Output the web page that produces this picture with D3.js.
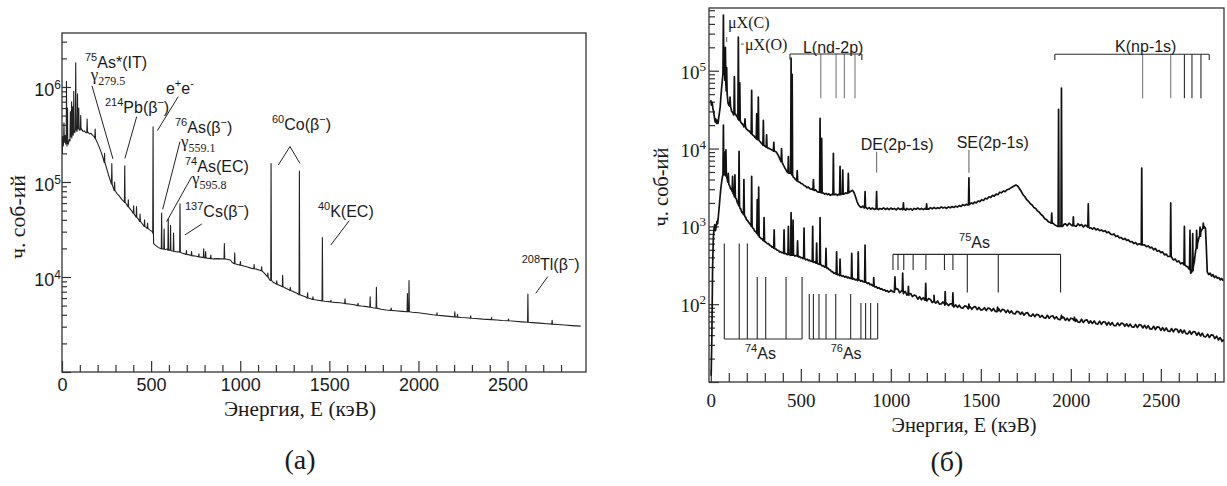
<!DOCTYPE html>
<html>
<head>
<meta charset="utf-8">
<script src="https://cdn.jsdelivr.net/npm/d3@7"></script>
<style>
body { margin: 0; background: #fff; }
svg { display: block; }
</style>
</head>
<body>
<svg id="fig" width="1227" height="486"></svg>
<script>
// ---- panel (a): continuum [E keV, counts] and peaks [E, base, top]
const contA = [
[1,2.0e5],[4,3.0e5],[7,2.4e5],[10,3.3e5],[13,2.6e5],[17,3.1e5],[21,2.5e5],[24,2.9e5],[28,2.4e5],[32,2.7e5],[36,2.5e5],[40,2.8e5],[45,2.7e5],[50,3.1e5],[55,2.9e5],[59,3.3e5],[63,3.1e5],[68,3.5e5],[72,3.3e5],[80,3.6e5],[84,3.4e5],[91,3.7e5],[98,3.5e5],[110,3.6e5],[118,3.4e5],[126,3.45e5],[134,3.3e5],[146,3.35e5],[155,3.2e5],[163,3.25e5],[172,3.1e5],[180,3.0e5],[190,2.8e5],[200,2.55e5],[210,2.3e5],[220,2.05e5],[230,1.8e5],[240,1.6e5],[250,1.4e5],[260,1.2e5],[270,1.05e5],[285,9.0e4],[300,8.0e4],[310,7.5e4],[322,7.1e4],[334,6.6e4],[345,6.3e4],[360,5.9e4],[375,5.4e4],[390,5.0e4],[405,4.6e4],[425,4.15e4],[445,3.75e4],[470,3.35e4],[490,3.15e4],[506,3.0e4],[514,2.25e4],[525,2.15e4],[540,2.05e4],[552,2.0e4],[580,1.95e4],[590,1.97e4],[603,1.92e4],[618,1.88e4],[640,1.85e4],[652,1.84e4],[675,1.78e4],[690,1.75e4],[710,1.72e4],[740,1.67e4],[760,1.64e4],[780,1.62e4],[815,1.58e4],[828,1.57e4],[850,1.55e4],[870,1.56e4],[895,1.55e4],[925,1.54e4],[945,1.51e4],[955,1.42e4],[980,1.36e4],[995,1.34e4],[1010,1.32e4],[1035,1.28e4],[1060,1.24e4],[1090,1.21e4],[1110,1.18e4],[1135,1.1e4],[1150,1.02e4],[1165,9.3e3],[1185,8.8e3],[1200,8.5e3],[1220,8.2e3],[1255,7.6e3],[1270,7.4e3],[1300,7.0e3],[1320,6.7e3],[1345,6.4e3],[1365,6.2e3],[1390,5.95e3],[1420,5.75e3],[1445,5.65e3],[1475,5.55e3],[1500,5.5e3],[1530,5.4e3],[1560,5.35e3],[1610,5.2e3],[1640,5.1e3],[1680,4.95e3],[1710,4.88e3],[1745,4.75e3],[1790,4.58e3],[1820,4.5e3],[1870,4.42e3],[1910,4.35e3],[1965,4.26e3],[2000,4.2e3],[2040,4.1e3],[2080,4.0e3],[2130,3.92e3],[2170,3.85e3],[2240,3.75e3],[2270,3.72e3],[2320,3.66e3],[2360,3.6e3],[2440,3.52e3],[2470,3.48e3],[2540,3.42e3],[2580,3.37e3],[2640,3.31e3],[2680,3.27e3],[2720,3.22e3],[2780,3.16e3],[2820,3.12e3],[2860,3.08e3],[2910,3.04e3]
];
const peaksA = [
[11,2.6e5,4.2e5],[25,2.8e5,1.15e6],[31,2.6e5,6.0e5],[47,3.0e5,5.5e5],[54,3.1e5,7.0e5],[60,3.3e5,6.2e5],[66,3.4e5,9.0e5],[77,3.6e5,1.8e6],[87,3.6e5,8.5e5],[94,3.7e5,6.0e5],[105,3.55e5,5.0e5],[141,3.3e5,4.6e5],[186,2.9e5,3.6e5],[239,1.6e5,2.0e5],[279.5,9.5e4,1.56e5],[295,8.1e4,1.0e5],[352,6.1e4,1.48e5],[372,5.5e4,6.5e4],[402,4.65e4,5.6e4],[418,4.25e4,5.5e4],[438,3.85e4,4.6e4],[463,3.4e4,4.0e4],[480,3.25e4,3.7e4],[511,2.9e4,3.8e5],[559,1.98e4,4.7e4],[573,1.96e4,3.2e4],[596,1.92e4,4.1e4],[609,1.9e4,3.5e4],[626,1.87e4,2.9e4],[662,1.82e4,5.9e4],[698,1.73e4,1.9e4],[727,1.68e4,1.85e4],[768,1.63e4,1.75e4],[795,1.6e4,1.98e4],[806,1.59e4,1.85e4],[835,1.56e4,1.7e4],[911,1.55e4,2.25e4],[969,1.38e4,1.8e4],[1001,1.33e4,1.45e4],[1078,1.22e4,1.35e4],[1120,1.16e4,1.28e4],[1155,1.0e4,1.1e4],[1173,9.2e3,1.56e5],[1205,8.4e3,9.1e3],[1238,7.9e3,1.04e4],[1281,7.2e3,7.8e3],[1332,6.5e3,1.3e5],[1378,6.0e3,6.8e3],[1408,5.8e3,6.2e3],[1461,5.6e3,2.6e4],[1509,5.45e3,5.7e3],[1588,5.25e3,5.9e3],[1661,5.0e3,5.3e3],[1729,4.8e3,6.2e3],[1764,4.7e3,7.8e3],[1847,4.45e3,4.7e3],[1938,4.3e3,6.7e3],[1947,4.3e3,9.2e3],[2104,3.96e3,4.2e3],[2204,3.8e3,4.3e3],[2219,3.78e3,4.05e3],[2293,3.68e3,3.9e3],[2410,3.56e3,3.75e3],[2505,3.46e3,3.62e3],[2614,3.34e3,6.6e3],[2750,3.19e3,3.5e3]
];
// labels: [parts, E, counts, font]; leaders: [E1, v1, E2, v2]
const labelsA = [
[[['75','sup'],['As*(IT)','n']], 129, 1.58e6, 'sans'],
[[['γ','n'],['279.5','sub']], 161, 1.19e6, 'serif'],
[[['214','sup'],['Pb(β','n'],['−','sup'],[')','n']], 241, 5.3e5, 'sans'],
[[['e','n'],['+','sup'],['e','n'],['-','sup']], 583, 8.4e5, 'sans'],
[[['76','sup'],['As(β','n'],['−','sup'],[')','n']], 634, 3.28e5, 'sans'],
[[['γ','n'],['559.1','sub']], 668, 2.33e5, 'serif'],
[[['74','sup'],['As(EC)','n']], 690, 1.27e5, 'sans'],
[[['γ','n'],['595.8','sub']], 729, 9.5e4, 'serif'],
[[['137','sup'],['Cs(β','n'],['−','sup'],[')','n']], 690, 4.28e4, 'sans'],
[[['60','sup'],['Co(β','n'],['−','sup'],[')','n']], 1178, 3.53e5, 'sans'],
[[['40','sup'],['K(EC)','n']], 1436, 4.28e4, 'sans'],
[[['208','sup'],['Tl(β','n'],['−','sup'],[')','n']], 2579, 1.19e4, 'sans']
];
const leadersA = [
[168,1.03e6,286,1.75e5],[419,4.87e5,353,1.77e5],[652,7.9e5,535,3.47e5],[662,2.66e5,565,5.16e4],
[728,1.14e5,587,3.82e4],[784,3.61e4,690,2.77e4],[1279,2.36e5,1214,1.51e5],[1279,2.36e5,1335,1.57e5],
[1612,3.92e4,1508,2.17e4],[2725,1.007e4,2658,6.73e3]
];

// ---- panel (б): upper and lower spectra
const upperB = [
[0,4.2e4],[4,3.6e4],[8,3.9e4],[12,3.2e4],[16,3.0e4],[20,2.5e4],[24,2.2e4],[28,2.4e4],[32,2.1e4],[36,2.3e4],[40,2.1e4],[44,2.5e4],[48,2.9e4],[52,3.4e4],[56,4.6e4],[60,6.0e4],[64,7.5e4],[67,9.0e4],[73,9.5e4],[78,8.0e4],[84,6.5e4],[91,5.0e4],[96,3.8e4],[101,3.6e4],[104,3.9e4],[112,3.3e4],[116,3.0e4],[122,2.9e4],[127,2.7e4],[136,2.8e4],[144,2.6e4],[149,2.5e4],[157,2.3e4],[166,2.2e4],[172,2.1e4],[178,2.05e4],[184,1.9e4],[192,1.95e4],[196,1.8e4],[202,1.75e4],[208,1.7e4],[214,1.68e4],[220,1.6e4],[232,1.5e4],[240,1.45e4],[246,1.38e4],[252,1.35e4],[259,1.3e4],[270,1.25e4],[278,1.2e4],[284,1.15e4],[289,1.12e4],[300,1.08e4],[307,1.05e4],[316,1.02e4],[324,1.0e4],[332,9.8e3],[340,9.6e3],[346,9.4e3],[356,9.2e3],[364,9.0e3],[372,8.4e3],[380,7.7e3],[388,7.0e3],[397,6.6e3],[404,6.1e3],[412,5.6e3],[420,5.2e3],[428,4.9e3],[434,4.8e3],[441,4.9e3],
[458,4.3e3],[464,4.2e3],[470,4.0e3],[477,3.9e3],[486,3.75e3],[494,3.7e3],[502,3.55e3],[510,3.5e3],[518,3.35e3],[526,3.3e3],[534,3.15e3],[542,3.2e3],[550,3.05e3],[558,3.0e3],[565,3.05e3],[575,2.9e3],[582,2.95e3],[590,2.8e3],[598,2.75e3],[604,2.75e3],[620,2.7e3],[626,2.68e3],[632,2.6e3],[640,2.65e3],[648,2.55e3],[656,2.62e3],[664,2.5e3],[672,2.58e3],[678,2.55e3],[688,2.55e3],[696,2.6e3],[704,2.5e3],[712,2.6e3],[722,2.55e3],[728,2.65e3],[740,2.6e3],[748,2.7e3],[756,2.65e3],[770,2.75e3],[780,2.85e3],[788,2.9e3],[796,2.7e3],[804,2.4e3],[812,2.1e3],[820,1.9e3],[828,1.8e3],[836,1.75e3],[844,1.82e3],[852,1.72e3],[862,1.75e3],[870,1.68e3],[880,1.74e3],[888,1.66e3],[898,1.72e3],[908,1.65e3],[917,1.7e3],[925,1.7e3],[932,1.64e3],[940,1.7e3],[950,1.66e3],[960,1.73e3],[970,1.65e3],[980,1.71e3],[990,1.64e3],[1000,1.72e3],[1010,1.66e3],[1020,1.7e3],[1030,1.63e3],[1040,1.72e3],[1050,1.65e3],[1060,1.69e3],[1066,1.64e3],[1075,1.68e3],[1082,1.62e3],[1090,1.7e3],[1100,1.64e3],[1110,1.69e3],[1120,1.62e3],[1130,1.7e3],[1140,1.66e3],[1150,1.72e3],[1160,1.65e3],[1170,1.7e3],[1180,1.64e3],[1190,1.7e3],[1196,1.66e3],[1203,1.68e3],[1210,1.66e3],[1220,1.74e3],[1230,1.68e3],[1240,1.75e3],[1250,1.69e3],[1260,1.74e3],[1270,1.7e3],[1280,1.78e3],[1290,1.72e3],[1300,1.76e3],[1310,1.7e3],[1320,1.78e3],[1330,1.73e3],[1340,1.8e3],[1350,1.75e3],[1360,1.82e3],[1370,1.77e3],[1380,1.85e3],[1390,1.8e3],[1400,1.9e3],[1410,1.85e3],[1420,1.92e3],[1428,1.88e3],[1440,1.95e3],[1448,2.0e3],[1456,1.95e3],[1465,2.05e3],[1475,2.0e3],[1485,2.12e3],[1495,2.08e3],[1505,2.2e3],[1515,2.15e3],[1525,2.3e3],[1535,2.25e3],[1545,2.4e3],[1555,2.35e3],[1565,2.5e3],[1575,2.45e3],[1585,2.6e3],[1595,2.55e3],[1605,2.75e3],[1615,2.7e3],[1625,2.85e3],[1635,2.8e3],[1645,2.95e3],[1655,3.0e3],[1665,3.1e3],[1675,3.2e3],[1685,3.3e3],[1695,3.4e3],[1705,3.3e3],[1715,3.05e3],[1725,2.8e3],[1735,2.55e3],[1745,2.4e3],[1755,2.2e3],[1765,2.1e3],[1775,1.95e3],[1785,1.88e3],[1795,1.75e3],[1805,1.7e3],[1815,1.58e3],[1825,1.52e3],[1835,1.42e3],[1845,1.36e3],[1855,1.25e3],[1865,1.22e3],[1875,1.15e3],[1885,1.12e3],[1900,1.1e3],[1910,1.05e3],[1920,1.02e3],[1928,1.0e3],[1940,1.0e3],[1955,1.0e3],[1962,1.06e3],[1970,1.08e3],[1980,1.02e3],[1990,1.1e3],[2000,1.05e3],[2008,1.02e3],[2020,1.02e3],[2030,1.0e3],[2040,1.08e3],[2050,1.02e3],[2060,1.06e3],[2070,980],[2080,1040],[2090,1000],[2104,950],[2112,960],[2120,920],[2130,960],[2140,900],[2150,930],[2160,880],[2170,900],[2180,860],[2190,880],[2200,830],[2210,850],[2220,800],[2230,780],[2240,800],[2250,740],[2260,760],[2270,710],[2280,720],[2290,680],[2300,700],[2310,660],[2320,670],[2330,630],[2340,640],[2350,600],[2360,620],[2370,580],[2380,600],[2390,580],[2400,580],[2410,580],[2420,550],[2430,560],[2440,530],[2450,540],[2460,500],[2470,520],[2480,480],[2490,490],[2500,460],[2510,470],[2520,430],[2530,440],[2540,410],[2550,410],[2560,400],[2570,370],[2580,380],[2590,350],[2600,360],[2610,330],[2620,340],[2628,320],[2640,310],[2650,300],[2658,280],[2666,250],[2672,260],[2680,300],[2686,350],[2694,500],[2704,600],[2712,720],[2722,850],[2730,920],[2740,1000],[2748,950],[2752,600],[2758,260],[2766,240],[2774,250],[2782,230],[2790,240],[2798,220],[2806,230],[2814,215],[2822,220],[2830,205],[2838,215],[2846,200]
];
const peaksB1 = [
[70,9.0e4,5.2e5],[75,9.5e4,1.6e5],[81,7.5e4,2.0e5],[88,5.5e4,1.1e5],[107,3.5e4,4.6e4],[131,2.8e4,8.4e4],[153,2.4e4,2.7e5],[161,2.3e4,7.0e4],[190,1.95e4,2.4e4],[227,1.55e4,5.6e4],[255,1.33e4,2.8e4],[264,1.3e4,4.6e4],[292,1.1e4,2.3e4],[310,1.04e4,1.5e4],[350,9.3e3,1.2e4],[393,6.8e3,1.0e4],[431,4.9e3,7.9e3],[446,4.8e3,1.45e5],[452,4.6e3,9.0e4],[480,3.85e3,5.2e3],[570,2.95e3,4.0e3],[607,2.75e3,2.45e4],[616,2.7e3,1.35e4],[681,2.55e3,8.7e3],[718,2.55e3,5.9e3],[733,2.6e3,5.3e3],[764,2.7e3,4.8e3],[857,1.75e3,2.8e3],[921,1.68e3,2.8e3],[1070,1.66e3,2.0e3],[1199,1.66e3,1.95e3],[1434,1.9e3,4.2e3],[1894,1.1e3,1.48e3],[1932,1.0e3,3.2e4],[1948,1.0e3,6.0e4],[2014,1.02e3,1.33e3],[2097,980,1950],[2394,580,5600],[2555,410,2000],[2631,320,1000],[2662,280,890],[2677,270,810],[2699,520,890],[2718,750,980],[2736,950,1100]
];
const lowerB = [
[2,12],[6,40],[10,300],[14,700],[18,950],[22,1050],[26,880],[30,1000],[34,1150],[38,1080],[42,1350],[46,1700],[50,2200],[54,2800],[58,3400],[62,4000],[66,4500],[74,4800],[80,4600],[88,4300],[92,4000],[100,3500],[104,3350],[110,3050],[116,2950],[124,2650],[128,2550],[138,2300],[142,2250],[148,2000],[152,1950],[162,1700],[166,1680],[172,1520],[178,1480],[190,1330],[194,1310],[198,1230],[206,1170],[212,1110],[218,1070],[224,1030],[232,960],[238,930],[244,870],[250,850],[254,820],[262,790],[270,730],[274,720],[280,695],[286,690],[290,660],[300,640],[306,625],[314,598],[320,603],[328,570],[334,565],[340,540],[346,545],[356,515],[362,512],[368,495],[376,490],[382,470],[388,472],[394,458],[400,462],[412,445],[418,448],[424,432],[438,436],[442,424],[462,428],[468,415],[474,422],[488,405],[492,410],[500,395],[506,398],[512,386],[522,384],[528,372],[536,378],[542,364],[548,368],[556,355],[560,360],[572,345],[578,350],[584,336],[592,338],[596,328],[612,322],[618,310],[624,314],[632,300],[636,304],[646,288],[650,292],[658,278],[664,276],[670,262],[676,262],[684,248],[690,252],[704,238],[708,242],[716,232],[722,236],[730,228],[736,232],[744,222],[752,228],[760,218],[764,222],[772,214],[776,218],[788,210],[792,214],[804,205],[808,209],[816,201],[826,205],[832,198],[840,201],[846,194],[864,192],[870,184],[878,188],[884,178],[892,180],[898,172],[904,176],[912,166],[920,168],[926,160],[934,163],[942,156],[950,158],[958,151],[966,153],[972,147],[980,149],[988,143],[996,147],
[1000,151],[1010,145],[1020,143],[1030,159],[1040,155],[1050,140],[1060,149],[1070,137],[1080,146],[1090,131],[1100,130],[1110,137],[1120,125],[1130,131],[1140,128],[1150,116],[1160,125],[1170,114],[1180,121],[1190,112],[1200,110],[1210,118],[1220,115],[1230,105],[1240,112],[1250,103],[1260,110],[1270,100],[1280,101],[1290,107],[1300,97],[1310,103],[1320,96],[1330,101],[1340,102],[1350,92],[1360,98],[1370,91],[1380,97],[1390,90],[1400,89],[1410,95],[1420,94],[1430,87],[1440,93],[1450,86],[1460,92],[1470,93],[1480,85],[1490,91],[1500,84],[1510,85],[1520,90],[1530,83],[1540,89],[1550,88],[1560,82],[1570,88],[1580,81],[1590,80],[1600,87],[1610,80],[1620,86],[1630,84],[1640,78],[1650,84],[1660,77],[1670,82],[1680,76],[1690,75],[1700,81],[1710,80],[1720,74],[1730,79],[1740,72],[1750,77],[1760,78],[1770,71],[1780,70],[1790,75],[1800,69],[1810,74],[1820,73],[1830,68],[1840,72],[1850,67],[1860,66],[1870,72],[1880,66],[1890,70],[1900,71],[1910,65],[1920,69],[1930,64],[1940,63],[1954,68],[1960,68],[1970,62],[1980,66],[1990,61],[2000,66],[2010,65],[2026,60],[2030,64],[2040,59],[2050,58.5],[2060,64],[2070,58],[2080,62],[2090,63],[2100,57],[2110,61],[2120,56.5],[2130,61],[2140,56],[2150,55.5],[2160,60.5],[2170,55],[2180,59.5],[2190,59],[2200,54],[2210,58.5],[2220,54],[2230,58],[2240,53],[2250,52.8],[2260,57.5],[2270,53],[2280,57],[2290,56.5],[2300,52],[2310,56],[2320,51.5],[2330,55.5],[2340,51],[2350,50.5],[2360,55],[2370,50],[2380,54.5],[2390,54],[2400,49.5],[2410,53.5],[2420,49],[2430,53],[2440,48],[2450,47.8],[2460,52],[2470,47.3],[2480,51.2],[2490,50.8],[2500,46],[2510,50],[2520,45.6],[2530,49.5],[2540,45],[2550,44.6],[2560,48.6],[2570,44.2],[2580,48],[2590,47.6],[2600,43.2],[2610,47],[2620,42.6],[2630,46.3],[2640,41.9],[2650,41.5],[2660,45.2],[2670,41],[2680,44.4],[2690,44],[2700,39.9],[2710,43.3],[2720,39.1],[2730,42.4],[2740,38.4],[2750,38],[2760,41.2],[2770,37.2],[2780,40.4],[2790,40],[2800,36.1],[2810,38.8],[2820,34.8],[2830,37.2],[2840,33.2],[2850,35]
];
const peaksB2 = [
[70,4.6e3,2.0e4],[76,4.8e3,9.0e3],[84,4.5e3,9.6e3],[97,3.7e3,4.8e3],[121,2.8e3,4.4e3],[134,2.4e3,4.6e3],[157,1.85e3,9.2e3],[184,1.42e3,4.0e3],[227,1.0e3,4.4e3],[258,810,2.2e3],[266,760,3.2e3],[296,650,1.3e3],[352,525,900],[407,450,900],[431,435,1.0e3],[446,428,1.5e3],[457,426,1.2e3],[482,415,650],[518,388,950],[566,352,1.0e3],[588,337,610],[607,325,1.3e3],[640,300,520],[699,243,470],[718,235,380],[783,213,450],[819,205,470],[857,192,575],[905,172,220],[1023,155,225],[1066,148,250],[1098,135,170],[1194,116,185],[1240,108,130],[1302,100,145],[1345,96,140],[1434,90,100],[1593,82,92],[1948,66,72],[2020,62,68]
];
const labelsB = [
[[['μX(C)','n']], 95.6, 3.54e5, 'serif'],
[[['μX(O)','n']], 190, 1.85e5, 'serif'],
[[['L(nd-2p)','n']], 512, 1.69e5, 'sans'],
[[['DE(2p-1s)','n']], 833, 9.57e3, 'sans'],
[[['SE(2p-1s)','n']], 1366, 1.02e4, 'sans'],
[[['K(np-1s)','n']], 2246, 1.74e5, 'sans'],
[[['75','sup'],['As','n']], 1379, 527, 'sans'],
[[['74','sup'],['As','n']], 190, 19.8, 'sans'],
[[['76','sup'],['As','n']], 666, 19.8, 'sans']
];
const marksB = [[88,2.71e5,88,2.34e5],[168,2.2e5,184,2.2e5],[921,9.1e3,921,4.9e3],[1434,9.57e3,1434,4.9e3]];
// combs: [E from, E to, counts of bar, teeth [E, counts end]]
const combsB = [
[440, 839, 1.64e5, [[440,1.39e5],[611,4.43e4],[696,4.43e4],[742,4.43e4],[801,4.43e4],[839,1.37e5]]],
[1911, 2769, 1.63e5, [[1911,1.37e5],[2399,4.43e4],[2555,4.43e4],[2631,4.43e4],[2673,4.43e4],[2723,4.43e4],[2769,1.37e5]]],
[1012, 1943, 437, [[1012,275],[1040,275],[1072,275],[1124,275],[1195,275],[1298,275],[1345,275],[1425,141],[1597,141],[1943,141]]],
[75, 507, 35.7, [[75,603],[158,603],[203,603],[258,223],[305,223],[418,223],[507,223]]],
[547, 927, 35.7, [[547,135],[570,135],[601,135],[640,135],[694,135],[777,135],[834,103.5],[860,103.5],[888,103.5],[927,103.5]]]
];

const SANS = 'Liberation Sans, Arial, sans-serif';
const SERIF = 'Liberation Serif, Times New Roman, serif';
const INK = '#1a1a1a';

const svg = d3.select('#fig');

const xA = d3.scaleLinear().domain([0, 2940]).range([62, 586]);
const yA = d3.scaleLog().domain([1000, 3.7e6]).range([372, 33]);
const xB = d3.scaleLinear().domain([-10, 2851]).range([709, 1224]);
const yB = d3.scaleLog().domain([10, 6.4e5]).range([382, 8]);

function withPeaks(cont, peaks, w) {
    const pts = cont.slice();
    peaks.forEach(([e, b, t]) => { pts.push([e - w, b], [e, t], [e + w, b]); });
    return pts.sort((a, b) => a[0] - b[0]);
}

function rich(g, x, y, parts, size, family, anchor) {
    const t = g.append('text')
        .attr('x', x).attr('y', y)
        .attr('font-family', family)
        .attr('font-size', size)
        .attr('text-anchor', anchor || 'start')
        .attr('fill', INK);
    let cur = 0;
    parts.forEach(([s, k]) => {
        const off = k === 'sup' ? -0.42 * size : k === 'sub' ? 0.28 * size : 0;
        t.append('tspan')
            .attr('dy', off - cur)
            .attr('font-size', k === 'n' ? size : Math.round(size * 0.68))
            .text(s);
        cur = off;
    });
    return t;
}

function decades(lo, hi) {
    const major = [], minor = [];
    for (let p = Math.floor(Math.log10(lo)); p <= Math.ceil(Math.log10(hi)); p++) {
        for (let m = 1; m < 10; m++) {
            const v = m * Math.pow(10, p);
            if (v < lo || v > hi) continue;
            (m === 1 ? major : minor).push(v);
        }
    }
    return {major, minor};
}

function panel(x, y, o) {
    const g = svg.append('g');
    const [x0, x1] = x.range(), [y0, y1] = y.range();
    const id = 'clip' + o.name;
    svg.append('clipPath').attr('id', id)
        .append('rect').attr('x', x0).attr('y', y1).attr('width', x1 - x0).attr('height', y0 - y1);

    // x ticks (inward)
    const xMajor = d3.range(0, 2600, 500);
    const xMinor = d3.range(100, 2900, 100).filter(d => d % 500 !== 0);
    const gx = g.append('g').attr('transform', `translate(0,${y0})`);
    gx.append('g').call(d3.axisBottom(x).tickValues(xMinor).tickSize(-o.xMinorLen).tickFormat(''));
    gx.append('g').call(d3.axisBottom(x).tickValues(xMajor).tickSize(-o.xMajorLen).tickPadding(o.xPad).tickFormat(d3.format('d')));
    gx.selectAll('.tick text').attr('font-family', o.tickFont).attr('font-size', o.tickSize).attr('fill', INK);

    // y ticks (inward), labels as 10^n
    const dec = decades(y.domain()[0], y.domain()[1]);
    const gy = g.append('g').attr('transform', `translate(${x0},0)`);
    gy.append('g').call(d3.axisLeft(y).tickValues(dec.minor).tickSize(-o.yMinorLen).tickFormat(() => ''));
    const gyMaj = gy.append('g').call(d3.axisLeft(y).tickValues(dec.major).tickSize(-o.yMajorLen).tickPadding(o.yPad).tickFormat(() => ''));
    gyMaj.selectAll('.tick').filter(d => o.yLabels.indexOf(d) < 0).select('text').remove();
    gyMaj.selectAll('.tick text').each(function (d) {
        const t = d3.select(this).attr('font-family', o.tickFont).attr('font-size', o.tickSize)
            .attr('fill', INK).attr('dy', o.yDy);
        t.append('tspan').text('10');
        t.append('tspan').attr('dy', -0.42 * o.tickSize).attr('font-size', Math.round(o.tickSize * 0.68))
            .text(Math.round(Math.log10(d)));
    });
    g.selectAll('.domain').remove();
    g.selectAll('.tick line').attr('stroke', '#333').attr('stroke-width', 1.2);

    // frame
    g.append('rect').attr('x', x0).attr('y', y1).attr('width', x1 - x0).attr('height', y0 - y1)
        .attr('fill', 'none').attr('stroke', '#333').attr('stroke-width', 1.3);

    return {g, clip: `url(#${id})`};
}

// ---------- panel (a)
const pa = panel(xA, yA, {
    name: 'A', xMinorLen: 7, xMajorLen: 11, xPad: 6, yMinorLen: 5, yMajorLen: 9, yPad: 1, yDy: '0.5em',
    tickFont: SANS, tickSize: 18, yLabels: [1e4, 1e5, 1e6]
});
const lineA = d3.line().x(d => xA(d[0])).y(d => yA(d[1]));
pa.g.append('path').datum(withPeaks(contA, peaksA, 2))
    .attr('clip-path', pa.clip)
    .attr('d', lineA).attr('fill', 'none').attr('stroke', '#222').attr('stroke-width', 1.1)
    .attr('stroke-linejoin', 'round');

pa.g.selectAll('line.lead').data(leadersA).enter().append('line').attr('class', 'lead')
    .attr('x1', d => xA(d[0])).attr('y1', d => yA(d[1]))
    .attr('x2', d => xA(d[2])).attr('y2', d => yA(d[3]))
    .attr('stroke', '#222').attr('stroke-width', 1);
labelsA.forEach(([parts, e, v, f]) => {
    rich(pa.g, xA(e), yA(v), parts, f === 'serif' ? 17 : 16, f === 'serif' ? SERIF : SANS);
});

// ---------- panel (б)
const pb = panel(xB, yB, {
    name: 'B', xMinorLen: 9, xMajorLen: 13, xPad: 12, yMinorLen: 6, yMajorLen: 10, yPad: 3, yDy: '0.4em',
    tickFont: SERIF, tickSize: 19, yLabels: [1e2, 1e3, 1e4, 1e5]
});
const lineB = d3.line().x(d => xB(d[0])).y(d => yB(d[1]));
[[lowerB, peaksB2], [upperB, peaksB1]].forEach(([c, p]) => {
    pb.g.append('path').datum(withPeaks(c, p, 2.5))
        .attr('clip-path', pb.clip)
        .attr('d', lineB).attr('fill', 'none').attr('stroke', '#111').attr('stroke-width', 1.7)
        .attr('stroke-linejoin', 'round');
});

combsB.forEach(([e0, e1, vb, teeth], i) => {
    const col = i < 2 ? '#7a7a7a' : '#2a2a2a';
    pb.g.selectAll(null).data(teeth).enter().append('line')
        .attr('x1', d => xB(d[0])).attr('x2', d => xB(d[0]))
        .attr('y1', yB(vb)).attr('y2', d => yB(d[1]))
        .attr('stroke', (d, j) => (j === 0 || j === teeth.length - 1 || (i === 1 && j > 2)) ? '#2a2a2a' : col)
        .attr('stroke-width', 1.1);
    pb.g.append('line').attr('x1', xB(e0)).attr('x2', xB(e1)).attr('y1', yB(vb)).attr('y2', yB(vb))
        .attr('stroke', '#2a2a2a').attr('stroke-width', 1.1);
});
pb.g.selectAll('line.mark').data(marksB).enter().append('line').attr('class', 'mark')
    .attr('x1', d => xB(d[0])).attr('y1', d => yB(d[1]))
    .attr('x2', d => xB(d[2])).attr('y2', d => yB(d[3]))
    .attr('stroke', '#777').attr('stroke-width', 1.2);
labelsB.forEach(([parts, e, v, f]) => {
    rich(pb.g, xB(e), yB(v), parts, 16, f === 'serif' ? SERIF : SANS);
});

// ---------- titles
const titles = svg.append('g').attr('font-family', SERIF).attr('fill', INK);
titles.append('text').attr('x', 300).attr('y', 416).attr('text-anchor', 'middle').attr('font-size', 20)
    .attr('textLength', 152).attr('lengthAdjust', 'spacingAndGlyphs').text('Энергия, E (кэВ)');
titles.append('text').attr('x', 964).attr('y', 432).attr('text-anchor', 'middle').attr('font-size', 20)
    .attr('textLength', 145).attr('lengthAdjust', 'spacingAndGlyphs').text('Энергия, E (кэВ)');
titles.append('text').attr('transform', 'translate(25,217) rotate(-90)').attr('text-anchor', 'middle')
    .attr('font-size', 20).attr('textLength', 84).attr('lengthAdjust', 'spacingAndGlyphs').text('ч. соб-ий');
titles.append('text').attr('transform', 'translate(668,187) rotate(-90)').attr('text-anchor', 'middle')
    .attr('font-size', 20).attr('textLength', 79).attr('lengthAdjust', 'spacingAndGlyphs').text('ч. соб-ий');
titles.append('text').attr('x', 300).attr('y', 469).attr('text-anchor', 'middle').attr('font-size', 28).text('(а)');
titles.append('text').attr('x', 947).attr('y', 471).attr('text-anchor', 'middle').attr('font-size', 28).text('(б)');
</script>
</body>
</html>
